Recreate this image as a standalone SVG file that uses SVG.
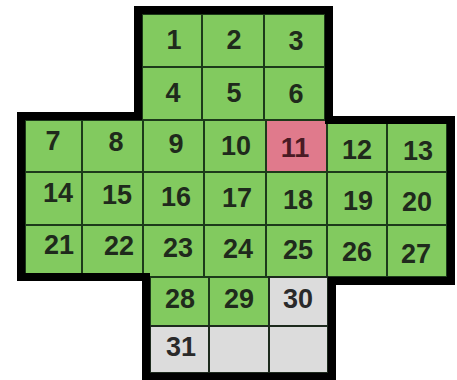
<svg xmlns="http://www.w3.org/2000/svg" width="457" height="380" viewBox="0 0 457 380">
<style>
.c{fill:#82ca5f;stroke:#1d3a1a;stroke-width:2}
.r{fill:#e07a8c;stroke:#1d3a1a;stroke-width:2}
.g{fill:#dcdcdc;stroke:#1d2a1d;stroke-width:2}
text{font-family:"Liberation Sans",Arial,sans-serif;font-weight:bold;font-size:27px;fill:#1f2a1c;text-anchor:middle;dominant-baseline:central}
.rt{fill:#4a1a24}
.gt{fill:#2a2a2a}
</style>
<rect width="457" height="380" fill="#ffffff"/>
<g id="cells">
<g id="n1"><rect class="c" x="142" y="14" width="60" height="53"/><text x="174" y="40">1</text></g>
<g id="n2"><rect class="c" x="202" y="14" width="62" height="53"/><text x="234" y="40">2</text></g>
<g id="n3"><rect class="c" x="264" y="14" width="61" height="53"/><text x="296" y="41">3</text></g>
<g id="n4"><rect class="c" x="142" y="67" width="60" height="53"/><text x="173" y="93">4</text></g>
<g id="n5"><rect class="c" x="202" y="67" width="62" height="53"/><text x="234" y="93">5</text></g>
<g id="n6"><rect class="c" x="264" y="67" width="61" height="53"/><text x="296" y="94">6</text></g>
<g id="n7"><rect class="c" x="25" y="120" width="57" height="52"/><text x="53" y="141">7</text></g>
<g id="n8"><rect class="c" x="82" y="120" width="61" height="52"/><text x="116" y="142">8</text></g>
<g id="n9"><rect class="c" x="143" y="120" width="61" height="52"/><text x="176" y="144">9</text></g>
<g id="n10"><rect class="c" x="204" y="120" width="62" height="52"/><text x="236" y="146">10</text></g>
<g id="n11"><rect class="r" x="266" y="120" width="61" height="52"/><text class="rt" x="295" y="148">11</text></g>
<g id="n12"><rect class="c" x="327" y="120" width="60" height="52"/><text x="357" y="150">12</text></g>
<g id="n13"><rect class="c" x="387" y="120" width="60" height="52"/><text x="418" y="151">13</text></g>
<g id="n14"><rect class="c" x="25" y="172" width="57" height="53"/><text x="58" y="193">14</text></g>
<g id="n15"><rect class="c" x="82" y="172" width="61" height="53"/><text x="117" y="195">15</text></g>
<g id="n16"><rect class="c" x="143" y="172" width="61" height="53"/><text x="176" y="197">16</text></g>
<g id="n17"><rect class="c" x="204" y="172" width="62" height="53"/><text x="237" y="198">17</text></g>
<g id="n18"><rect class="c" x="266" y="172" width="61" height="53"/><text x="298" y="200">18</text></g>
<g id="n19"><rect class="c" x="327" y="172" width="60" height="53"/><text x="358" y="201">19</text></g>
<g id="n20"><rect class="c" x="387" y="172" width="60" height="53"/><text x="417" y="202">20</text></g>
<g id="n21"><rect class="c" x="25" y="225" width="57" height="52"/><text x="59" y="245">21</text></g>
<g id="n22"><rect class="c" x="82" y="225" width="61" height="52"/><text x="119" y="246">22</text></g>
<g id="n23"><rect class="c" x="143" y="225" width="61" height="52"/><text x="178" y="248">23</text></g>
<g id="n24"><rect class="c" x="204" y="225" width="62" height="52"/><text x="238" y="249">24</text></g>
<g id="n25"><rect class="c" x="266" y="225" width="61" height="52"/><text x="298" y="250">25</text></g>
<g id="n26"><rect class="c" x="327" y="225" width="60" height="52"/><text x="357" y="252">26</text></g>
<g id="n27"><rect class="c" x="387" y="225" width="60" height="52"/><text x="416" y="254">27</text></g>
<g id="n28"><rect class="c" x="150" y="277" width="59" height="49"/><text x="180" y="299">28</text></g>
<g id="n29"><rect class="c" x="209" y="277" width="60" height="49"/><text x="239" y="299">29</text></g>
<g id="n30"><rect class="g" x="269" y="277" width="59" height="49"/><text class="gt" x="298" y="299">30</text></g>
<g id="n31"><rect class="g" x="150" y="326" width="59" height="47"/><text class="gt" x="181" y="347">31</text></g>
<g id="n32"><rect class="g" x="209" y="326" width="60" height="47"/></g>
<g id="n33"><rect class="g" x="269" y="326" width="59" height="47"/></g>
</g>
<g id="outline">
<path d="M138,10 L329,10 L329,120 L451,120 L451,281 L332,281 L332,377 L146,377 L146,277 L21,277 L21,116 L138,116 Z" fill="none" stroke="#000" stroke-width="8" stroke-linejoin="miter"/>
</g>
</svg>
